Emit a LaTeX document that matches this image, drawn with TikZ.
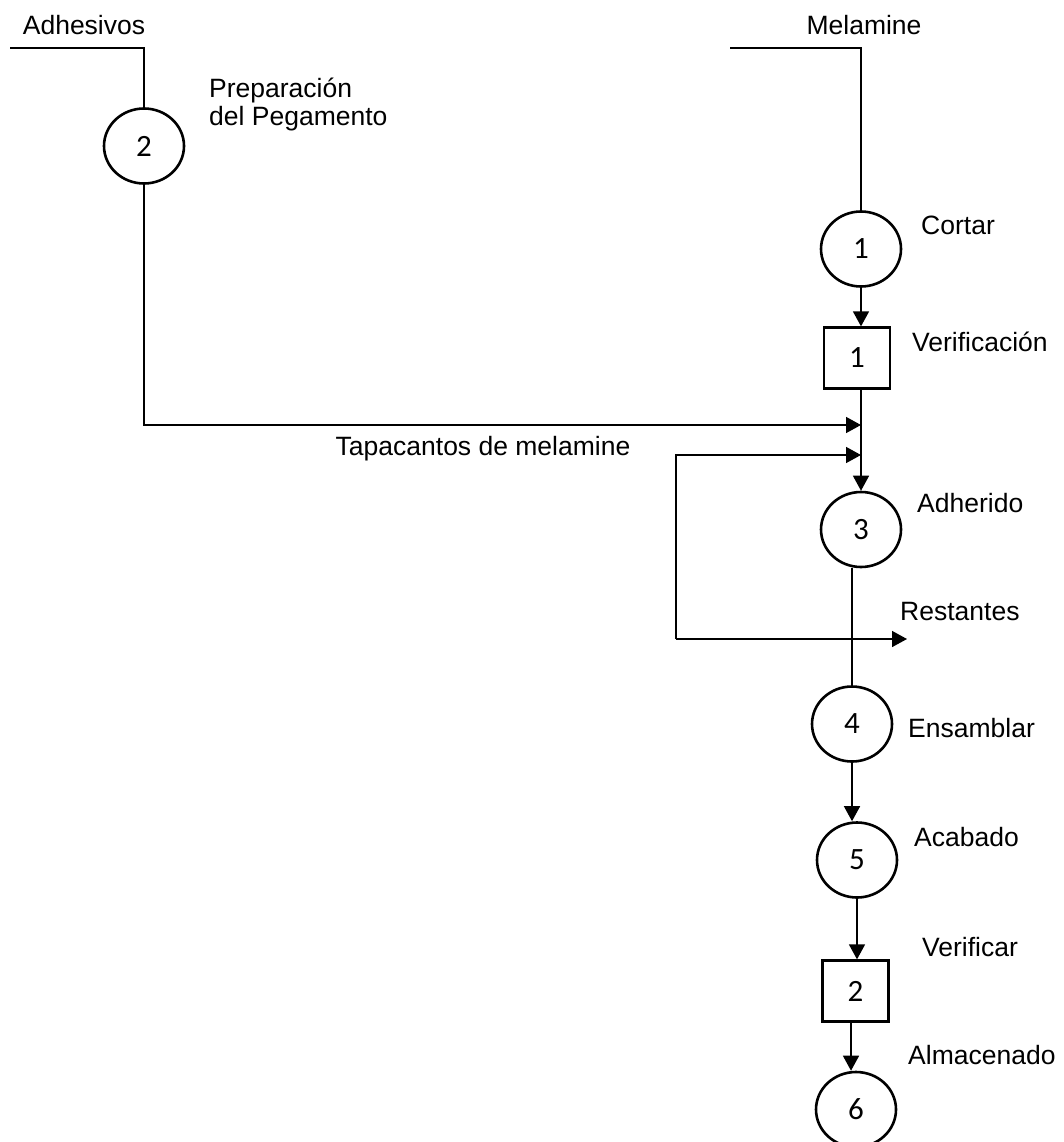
\documentclass[tikz,border=0pt]{standalone}
\usepackage{fontspec}
\setmainfont{Liberation Sans}
\newfontfamily\numfont{Carlito}
\usetikzlibrary{shapes.geometric,arrows.meta}
\tikzset{
  op/.style={ellipse, draw, line width=2.6pt, minimum width=80pt, minimum height=75pt,
             inner sep=0pt, font=\numfont\fontsize{31}{31}\selectfont},
  chk/.style={rectangle, draw, line width=2.3pt, minimum width=66pt, minimum height=61pt,
              inner sep=0pt, font=\numfont\fontsize{31}{31}\selectfont},
  lbl/.style={font=\fontsize{26.5}{28}\selectfont, inner sep=0pt},
  flow/.style={line width=1.5pt},
  arr/.style={flow, -{Triangle[length=15pt,width=16pt]}}
}
\begin{document}
\begin{tikzpicture}[x=1pt,y=-1pt]
\useasboundingbox (0,0) rectangle (1064,1142);

% raw materials
\node[lbl] (adh) at (84,25) {Adhesivos};
\node[lbl] (mel) at (864,25) {Melamine};
\coordinate (a0) at (10,48);
\coordinate (m0) at (730,48);

% operations and inspections
\node[op]  (op2)  at (144,146)   {\raisebox{-6pt}{2}};
\node[op]  (op1)  at (861,249)   {\raisebox{-5pt}{1}};
\node[chk] (ins1) at (857,358)   {\raisebox{-2pt}{1}};
\node[op]  (op3)  at (861,529.5) {\raisebox{-4pt}{3}};
\node[op]  (op4)  at (852,724)   {\raisebox{-5pt}{4}};
\node[op]  (op5)  at (857,860)   {\raisebox{-7pt}{5}};
\node[chk] (ins2) at (855.5,991) {2};
\node[op]  (op6)  at (856,1109.5){\raisebox{-3pt}{6}};

% captions
\node[lbl, anchor=west, align=left] (tprep) at (209,104) {Preparación\\del Pegamento};
\node[lbl, anchor=west] (tcor) at (921,225)  {Cortar};
\node[lbl, anchor=west] (tver) at (912,342)  {Verificación};
\node[lbl, anchor=west] (tadh) at (917,503)  {Adherido};
\node[lbl, anchor=west] (tres) at (900,612)  {Restantes};
\node[lbl, anchor=west] (tens) at (908,728)  {Ensamblar};
\node[lbl, anchor=west] (taca) at (914,837)  {Acabado};
\node[lbl, anchor=west] (tvfc) at (922,947)  {Verificar};
\node[lbl, anchor=west] (talm) at (908,1055) {Almacenado};
\node[lbl] (ttap) at (483,449) {Tapacantos de melamine};

% junction points on the main line
\coordinate (j1) at (861,425);
\coordinate (j2) at (861,455);
\coordinate (r1) at (676,639);
\coordinate (rout) at (907,639);

% connectors
\draw[flow] (a0) -| (op2.north);
\draw[flow] (m0) -| (op1.north);
\draw[arr] (op1.south) -- (op1.south |- ins1.north);
\draw[arr] (ins1.south -| op3.north) -- (op3.north);
\draw[arr] (op2.south) |- (j1);
\draw[arr] (r1) |- (j2);
\draw[arr] (r1) -- (rout);
\draw[flow] (op3.south -| op4.north) -- (op4.north);
\draw[arr] (op4.south) -- (op4.south |- op5.north);
\draw[arr] (op5.south) -- (op5.south |- ins2.north);
\draw[arr] (ins2.south -| 851,0) -- (op6.north -| 851,0);
\end{tikzpicture}
\end{document}
